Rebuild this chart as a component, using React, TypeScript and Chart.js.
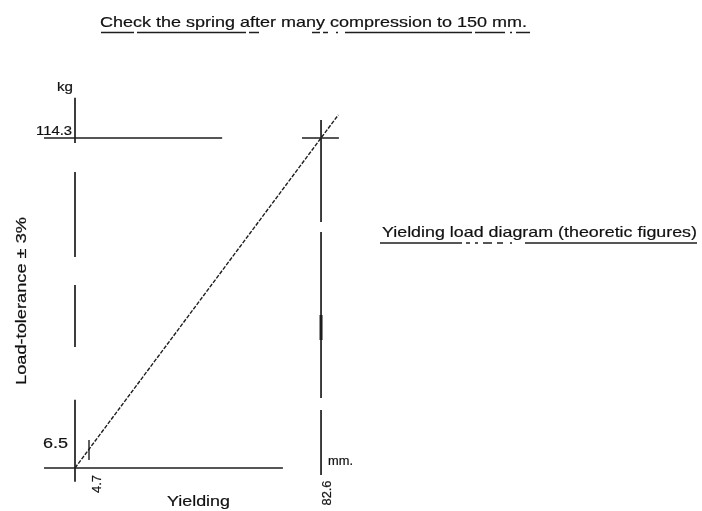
import React, { useEffect, useRef } from "react";
import { Chart, registerables } from "chart.js";

Chart.register(...registerables);

// ---- data (mm / kg) ----
const X_MARKS = [4.7, 82.6]; // yielding, mm
const Y_MARKS = [6.5, 114.3]; // load, kg
const X_LABELS = ["4.7", "82.6"];
const Y_LABELS = ["6.5", "114.3"];

// theoretic load line (origin -> max point, drawn slightly beyond)
const LOAD_LINE = [
  { x: 0, y: 0 },
  { x: 4.7, y: 6.5 },
  { x: 82.6, y: 114.3 },
  { x: 88.4, y: 122.3 },
];

// construction lines of the drawing
const MAX_LOAD_LINE = [
  { x: -10.4, y: 114.3 },
  { x: 49.4, y: 114.3 },
];
const MAX_CROSS = [
  { x: 76.2, y: 114.3 },
  { x: 88.6, y: 114.3 },
];
const X_AXIS_LINE = [
  { x: -10.4, y: 0 },
  { x: 69.8, y: 0 },
];
// y axis drawn as broken segments (kg ranges)
const Y_AXIS_SEGMENTS = [
  [128.2, 112.6],
  [102.5, 73.1],
  [63.4, 41.9],
  [23.6, -4.8],
];
// vertical at 82.6 mm, broken segments (kg ranges)
const MAX_VERTICAL_SEGMENTS = [
  [120.5, 85.2],
  [81.7, 24.2],
  [20.1, -2.4],
];
const MAX_VERTICAL_BOLD = [53, 44.3];
const SMALL_TICK = [9.7, 2.8]; // at 4.7 mm

const INK = "#1e1e1e";

function seg(data: { x: number; y: number }[], width = 1.7, dash: number[] = []) {
  return {
    data,
    showLine: true,
    pointRadius: 0,
    borderColor: INK,
    borderWidth: width,
    borderDash: dash,
    fill: false,
  };
}

function fitText(
  ctx: CanvasRenderingContext2D,
  text: string,
  x: number,
  y: number,
  size: number,
  width: number,
  rot = 0
) {
  ctx.save();
  ctx.font = `${size}px "Liberation Sans", Arial, sans-serif`;
  const w = ctx.measureText(text).width;
  ctx.translate(x, y);
  if (rot) ctx.rotate(rot);
  ctx.scale(width / w, 1);
  ctx.textAlign = "center";
  ctx.textBaseline = "alphabetic";
  ctx.fillStyle = "#111";
  ctx.strokeStyle = "#111";
  ctx.lineWidth = 0.2;
  ctx.fillText(text, 0, 0);
  ctx.strokeText(text, 0, 0);
  ctx.restore();
}

const textPlugin = {
  id: "drawingText",
  afterDatasetsDraw(chart: any) {
    const ctx: CanvasRenderingContext2D = chart.ctx;
    const xs = chart.scales.x;
    const ys = chart.scales.y;
    const x0 = xs.getPixelForValue(0);
    const y0 = ys.getPixelForValue(0);

    // title
    fitText(ctx, "Check the spring after many compression to 150 mm.", 313.5, 27, 15, 427);
    ctx.save();
    ctx.strokeStyle = INK;
    ctx.lineWidth = 1.5;
    const ul1 = [[101, 134], [137, 246], [249, 259], [312, 320], [323, 328], [336, 338], [345, 472], [475, 505], [510, 512], [516, 530]];
    ul1.forEach(([a, b]) => {
      ctx.beginPath();
      ctx.moveTo(a, 32.5);
      ctx.lineTo(b, 32.5);
      ctx.stroke();
    });
    const ul2 = [[380, 462], [466, 470], [475, 478], [483, 492], [497, 503], [510, 512], [525, 697]];
    ul2.forEach(([a, b]) => {
      ctx.beginPath();
      ctx.moveTo(a, 243);
      ctx.lineTo(b, 243);
      ctx.stroke();
    });
    ctx.restore();

    fitText(ctx, "Yielding load diagram (theoretic figures)", 539.5, 237, 15, 315);

    // axis units & titles
    fitText(ctx, "kg", x0 - 10, 91, 13, 16);
    fitText(ctx, "mm.", 340.5, 465, 12, 25);
    fitText(ctx, "Yielding", 198.5, 506, 15, 63);
    fitText(ctx, "Load-tolerance \u00b1 3%", 26, 301, 15, 168, -Math.PI / 2);

    // tick labels
    fitText(ctx, Y_LABELS[1], x0 - 21, ys.getPixelForValue(Y_MARKS[1]) - 3, 13, 36);
    fitText(ctx, Y_LABELS[0], x0 - 19.5, ys.getPixelForValue(Y_MARKS[0]) - 1, 15, 25);
    fitText(ctx, X_LABELS[0], xs.getPixelForValue(X_MARKS[0]) + 12, y0 + 16, 13, 18, -Math.PI / 2);
    fitText(ctx, X_LABELS[1], xs.getPixelForValue(X_MARKS[1]) + 10, y0 + 25, 13, 25, -Math.PI / 2);
  },
};

export default function App() {
  const ref = useRef<HTMLCanvasElement | null>(null);
  useEffect(() => {
    if (!ref.current) return;
    const datasets: any[] = [
      seg(LOAD_LINE, 1.4, [4, 1.5]),
      seg(MAX_LOAD_LINE),
      seg(MAX_CROSS),
      seg(X_AXIS_LINE),
      ...Y_AXIS_SEGMENTS.map(([a, b]) => seg([{ x: 0, y: a }, { x: 0, y: b }])),
      ...MAX_VERTICAL_SEGMENTS.map(([a, b]) => seg([{ x: X_MARKS[1], y: a }, { x: X_MARKS[1], y: b }])),
      seg([{ x: X_MARKS[1], y: MAX_VERTICAL_BOLD[0] }, { x: X_MARKS[1], y: MAX_VERTICAL_BOLD[1] }], 3),
      seg([{ x: X_MARKS[0], y: SMALL_TICK[0] }, { x: X_MARKS[0], y: SMALL_TICK[1] }], 1.4),
    ];
    const chart = new Chart(ref.current, {
      type: "scatter",
      data: { datasets },
      options: {
        animation: false,
        responsive: true,
        maintainAspectRatio: false,
        layout: { padding: 0 },
        plugins: { legend: { display: false }, tooltip: { enabled: false } },
        scales: {
          x: { type: "linear", min: -25.18, max: 210.5, display: false },
          y: { type: "linear", min: -14.9, max: 162.1, display: false },
        },
      },
      plugins: [textPlugin],
    });
    return () => chart.destroy();
  }, []);
  return (
    <div style={{ position: "fixed", left: 0, top: 0, width: 702, height: 511, background: "#fff" }}>
      <canvas ref={ref} />
    </div>
  );
}
